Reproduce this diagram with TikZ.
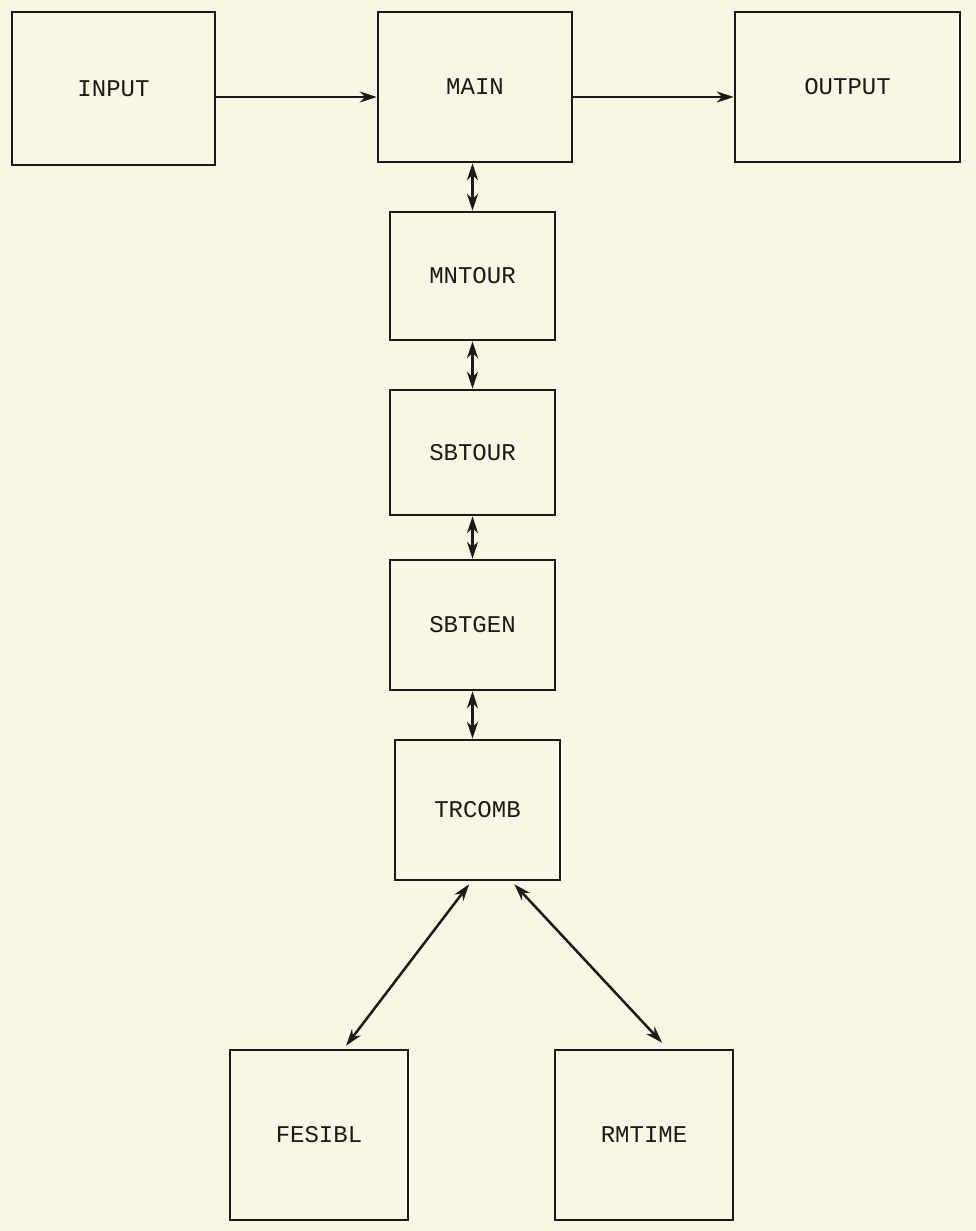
\documentclass[tikz,border=0pt]{standalone}
\usepackage{fontspec}
\setmonofont{Liberation Mono}
\usetikzlibrary{arrows.meta,calc}
\definecolor{paper}{RGB}{250,246,230}
\definecolor{ink}{RGB}{30,25,20}
\begin{document}
\begin{tikzpicture}[x=1pt,y=-1pt,
  modbox/.style={draw=ink,line width=2.5pt,inner sep=0pt,font=\ttfamily\fontsize{24}{24}\selectfont,text=ink},
  link/.style={draw=ink,line width=2.5pt,-{Stealth[length=17pt,width=11pt]}},
  blink/.style={draw=ink,line width=2.5pt,{Stealth[length=17pt,width=11pt]}-{Stealth[length=17pt,width=11pt]}}]
\fill[paper] (0,0) rectangle (976,1231);
\useasboundingbox (0,0) rectangle (976,1231);
\node[modbox,minimum width=203pt,minimum height=153pt] (input) at (113.5,88.5) {INPUT};
\node[modbox,minimum width=194pt,minimum height=150pt] (main) at (475,87) {MAIN};
\node[modbox,minimum width=225pt,minimum height=150pt] (output) at (847.5,87) {OUTPUT};
\node[modbox,minimum width=165pt,minimum height=128pt] (mntour) at (472.5,276) {MNTOUR};
\node[modbox,minimum width=165pt,minimum height=125pt] (sbtour) at (472.5,452.5) {SBTOUR};
\node[modbox,minimum width=165pt,minimum height=130pt] (sbtgen) at (472.5,625) {SBTGEN};
\node[modbox,minimum width=165pt,minimum height=140pt] (trcomb) at (477.5,810) {TRCOMB};
\node[modbox,minimum width=178pt,minimum height=170pt] (fesibl) at (319,1135) {FESIBL};
\node[modbox,minimum width=178pt,minimum height=170pt] (rmtime) at (644,1135) {RMTIME};
\draw[link] ([yshift=-10pt]input.east |- main.west) -- ([yshift=-10pt]main.west);
\draw[link] ([yshift=-10pt]main.east) -- ([yshift=-10pt]output.west);
\draw[blink] (mntour.north |- main.south) -- (mntour.north);
\draw[blink] (mntour.south) -- (sbtour.north);
\draw[blink] (sbtour.south) -- (sbtgen.north);
\draw[blink] (sbtgen.south) -- (sbtgen.south |- trcomb.north);
\coordinate (fesiblend) at ($(fesibl.north west)!0.65!(fesibl.north east)+(0,-3)$);
\coordinate (rmtimeend) at ($(rmtime.north west)!0.6!(rmtime.north east)+(0,-6)$);
\draw[blink] ($(trcomb.south west)!0.45!(trcomb.south east)+(0,3)$) -- (fesiblend);
\draw[blink] ($(trcomb.south west)!0.72!(trcomb.south east)+(0,3)$) -- (rmtimeend);
\end{tikzpicture}
\end{document}
